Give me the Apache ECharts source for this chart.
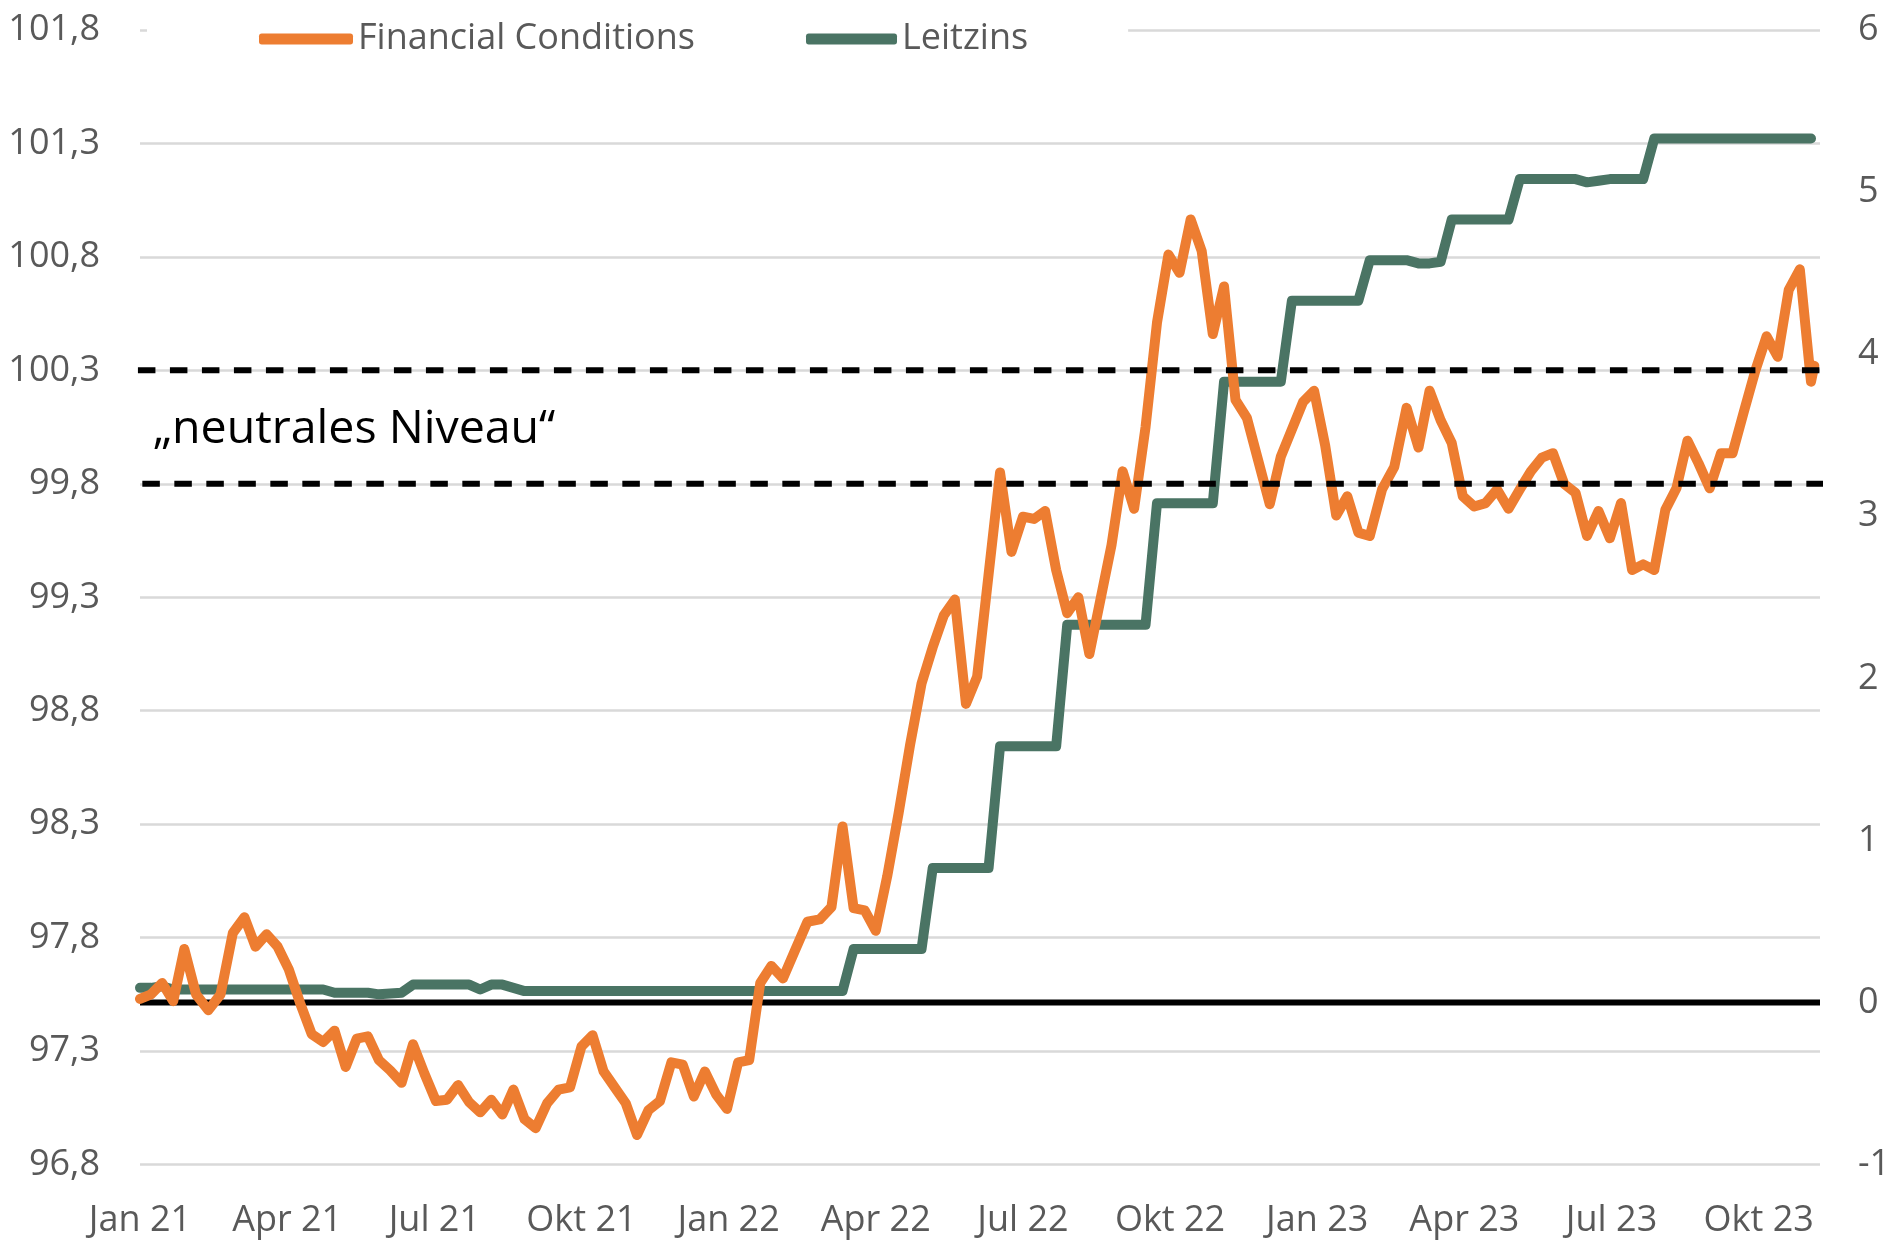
<!DOCTYPE html>
<html>
<head>
<meta charset="utf-8">
<script src="https://cdn.jsdelivr.net/npm/echarts/dist/echarts.min.js"></script>
<style>
html,body{margin:0;padding:0;background:#ffffff;}
#chart{width:1898px;height:1248px;}
</style>
</head>
<body>
<div id="chart"></div>
<script>
// ---------- data ----------
const dates = [
'2021-01-01','2021-01-08','2021-01-15','2021-01-22','2021-01-29',
'2021-02-05','2021-02-12','2021-02-19','2021-02-26',
'2021-03-05','2021-03-12','2021-03-19','2021-03-26',
'2021-04-02','2021-04-09','2021-04-16','2021-04-23','2021-04-30',
'2021-05-07','2021-05-14','2021-05-21','2021-05-28',
'2021-06-04','2021-06-11','2021-06-18','2021-06-25',
'2021-07-02','2021-07-09','2021-07-16','2021-07-23','2021-07-30',
'2021-08-06','2021-08-13','2021-08-20','2021-08-27',
'2021-09-03','2021-09-10','2021-09-17','2021-09-24',
'2021-10-01','2021-10-08','2021-10-15','2021-10-22','2021-10-29',
'2021-11-05','2021-11-12','2021-11-19','2021-11-26',
'2021-12-03','2021-12-10','2021-12-17','2021-12-24','2021-12-31',
'2022-01-07','2022-01-14','2022-01-21','2022-01-28',
'2022-02-04','2022-02-11','2022-02-18','2022-02-25',
'2022-03-04','2022-03-11','2022-03-18','2022-03-25',
'2022-04-01','2022-04-08','2022-04-15','2022-04-22','2022-04-29',
'2022-05-06','2022-05-13','2022-05-20','2022-05-27',
'2022-06-03','2022-06-10','2022-06-17','2022-06-24',
'2022-07-01','2022-07-08','2022-07-15','2022-07-22','2022-07-29',
'2022-08-05','2022-08-12','2022-08-19','2022-08-26',
'2022-09-02','2022-09-09','2022-09-16','2022-09-23','2022-09-30',
'2022-10-07','2022-10-14','2022-10-21','2022-10-28',
'2022-11-04','2022-11-11','2022-11-18','2022-11-25',
'2022-12-02','2022-12-09','2022-12-16','2022-12-23','2022-12-30',
'2023-01-06','2023-01-13','2023-01-20','2023-01-27',
'2023-02-03','2023-02-10','2023-02-17','2023-02-24',
'2023-03-03','2023-03-10','2023-03-17','2023-03-24','2023-03-31',
'2023-04-07','2023-04-14','2023-04-21','2023-04-28',
'2023-05-05','2023-05-12','2023-05-19','2023-05-26',
'2023-06-02','2023-06-09','2023-06-16','2023-06-23','2023-06-30',
'2023-07-07','2023-07-14','2023-07-21','2023-07-28',
'2023-08-04','2023-08-11','2023-08-18','2023-08-25',
'2023-09-01','2023-09-08','2023-09-15','2023-09-22','2023-09-29',
'2023-10-06','2023-10-13','2023-10-20','2023-10-27',
'2023-11-03','2023-11-05'
];

const financialConditions = [
97.53, 97.55, 97.60, 97.52, 97.75,
97.55, 97.48, 97.55, 97.82,
97.89, 97.76, 97.815, 97.76,
97.66, 97.51, 97.375, 97.34, 97.39,
97.23, 97.355, 97.365, 97.26,
97.215, 97.16, 97.33, 97.20,
97.08, 97.085, 97.15, 97.075, 97.03,
97.085, 97.02, 97.13, 97.00,
96.96, 97.07, 97.13, 97.14,
97.32, 97.37, 97.21, 97.14, 97.07,
96.93, 97.04, 97.08, 97.25,
97.24, 97.10, 97.21, 97.11, 97.045,
97.25, 97.26, 97.60, 97.675,
97.62, 97.745, 97.87, 97.88,
97.935, 98.29, 97.93, 97.92,
97.83, 98.07, 98.35, 98.65, 98.92,
99.08, 99.22, 99.29, 98.83,
98.95, 99.40, 99.85, 99.50,
99.655, 99.645, 99.68, 99.42, 99.23,
99.30, 99.05, 99.29, 99.53,
99.855, 99.69, 100.05, 100.51, 100.81,
100.73, 100.965, 100.825, 100.46,
100.67, 100.17, 100.09, 99.90,
99.71, 99.92, 100.04, 100.16, 100.21,
99.97, 99.66, 99.745, 99.585,
99.57, 99.775, 99.875, 100.135,
99.96, 100.21, 100.08, 99.98, 99.745,
99.70, 99.715, 99.775, 99.69,
99.775, 99.855, 99.915, 99.935,
99.80, 99.76, 99.57, 99.68, 99.56,
99.715, 99.42, 99.445, 99.42,
99.685, 99.78, 99.99, 99.89,
99.78, 99.935, 99.935, 100.12, 100.30,
100.45, 100.36, 100.655, 100.745,
100.25, 100.32
];

const leitzins = [
0.09, 0.09, 0.10, 0.08, 0.08,
0.08, 0.08, 0.08, 0.08,
0.08, 0.08, 0.08, 0.08,
0.08, 0.08, 0.08, 0.08, 0.06,
0.06, 0.06, 0.06, 0.05,
0.055, 0.06, 0.11, 0.11,
0.11, 0.11, 0.11, 0.11, 0.08,
0.11, 0.11, 0.09, 0.07,
0.07, 0.07, 0.07, 0.07,
0.07, 0.07, 0.07, 0.07, 0.07,
0.07, 0.07, 0.07, 0.07,
0.07, 0.07, 0.07, 0.07, 0.07,
0.07, 0.07, 0.07, 0.07,
0.07, 0.07, 0.07, 0.07,
0.07, 0.07, 0.33, 0.33,
0.33, 0.33, 0.33, 0.33, 0.33,
0.83, 0.83, 0.83, 0.83,
0.83, 0.83, 1.58, 1.58,
1.58, 1.58, 1.58, 1.58, 2.33,
2.33, 2.33, 2.33, 2.33,
2.33, 2.33, 2.33, 3.08, 3.08,
3.08, 3.08, 3.08, 3.08,
3.83, 3.83, 3.83, 3.83,
3.83, 3.83, 4.33, 4.33, 4.33,
4.33, 4.33, 4.33, 4.33,
4.58, 4.58, 4.58, 4.58,
4.56, 4.56, 4.57, 4.83, 4.83,
4.83, 4.83, 4.83, 4.83,
5.08, 5.08, 5.08, 5.08,
5.08, 5.08, 5.06, 5.07, 5.08,
5.08, 5.08, 5.08, 5.33,
5.33, 5.33, 5.33, 5.33,
5.33, 5.33, 5.33, 5.33, 5.33,
5.33, 5.33, 5.33, 5.33,
5.33, null
];

const xTickLabels = ['Jan 21','Apr 21','Jul 21','Okt 21','Jan 22','Apr 22','Jul 22','Okt 22','Jan 23','Apr 23','Jul 23','Okt 23'];
const leftAxisRange = [96.8, 101.8, 0.5];
const rightAxisRange = [-1, 6, 1];
const neutralLevels = [100.3, 99.8];
const neutralLabel = '\u201Eneutrales Niveau\u201C';
const seriesNames = ['Financial Conditions', 'Leitzins'];

// ---------- helpers ----------
function monthsSince2021(s) {
  const p = s.split('-').map(Number);
  const dim = new Date(p[0], p[1], 0).getDate();
  return (p[0] - 2021) * 12 + (p[1] - 1) + (p[2] - 1) / dim;
}
const X_MAX = 34.25;
const FONT = '"Open Sans", "Noto Sans", sans-serif';
const ORANGE = '#ED7D31';
const GREEN = '#4A7464';
const LABEL = '#595959';
const FS = 36;

const fciData = dates.map((d, i) => [monthsSince2021(d), financialConditions[i]]);
const rateData = dates.map((d, i) => [monthsSince2021(d), leitzins[i]]).filter(p => p[1] !== null);

const dashExtents = [[-0.45, 34.35], [-0.35, 34.47]];
const dashOffsets = [12, 12.5];

const chart = echarts.init(document.getElementById('chart'), null, {renderer: 'canvas'});

const series = [
  {
    name: 'zero', type: 'line', yAxisIndex: 1, z: 1, silent: true, symbol: 'none',
    data: [[0, 0], [X_MAX, 0]],
    lineStyle: {color: '#000000', width: 6}
  },
  {
    name: seriesNames[1], type: 'line', yAxisIndex: 1, z: 2, symbol: 'none',
    data: rateData, color: GREEN,
    lineStyle: {color: GREEN, width: 10, cap: 'round', join: 'round'}
  },
  {
    name: seriesNames[0], type: 'line', yAxisIndex: 0, z: 3, symbol: 'none',
    data: fciData, color: ORANGE,
    lineStyle: {color: ORANGE, width: 10, cap: 'round', join: 'round'}
  }
];
neutralLevels.forEach((lv, k) => {
  series.push({
    name: 'neutral' + k, type: 'line', yAxisIndex: 0, z: 4, symbol: 'none', clip: false, silent: true,
    data: [[dashExtents[k][0], lv], [dashExtents[k][1], lv]],
    lineStyle: {color: '#000000', width: 6, type: [17.5, 14.5], dashOffset: dashOffsets[k], cap: 'butt'}
  });
});

const legendText = {fontFamily: FONT, fontSize: FS, color: LABEL, lineHeight: 44};

const option = {
  animation: false,
  backgroundColor: '#ffffff',
  textStyle: {fontFamily: FONT},
  grid: {left: 140, right: 78, top: 30, bottom: 83.5, containLabel: false, outerBoundsMode: 'none'},
  legend: [
    {
      data: [seriesNames[0]], left: 147, top: 15, padding: [2, 8, 2, 112],
      itemWidth: 94, itemHeight: 11, icon: 'roundRect', backgroundColor: '#ffffff',
      textStyle: legendText, selectedMode: false
    },
    {
      data: [seriesNames[1]], left: 694, top: 15, padding: [2, 100, 2, 112],
      itemWidth: 91, itemHeight: 11, icon: 'roundRect', backgroundColor: '#ffffff',
      textStyle: legendText, selectedMode: false
    }
  ],
  xAxis: {
    type: 'value', min: 0, max: X_MAX, interval: 3,
    axisLine: {show: false}, axisTick: {show: false}, splitLine: {show: false},
    axisLabel: {
      fontFamily: FONT, fontSize: FS, color: LABEL, margin: 38,
      showMaxLabel: false,
      formatter: function (v) {
        const k = Math.round(v / 3);
        if (Math.abs(v - k * 3) > 1e-6 || k >= xTickLabels.length) return '';
        return xTickLabels[k];
      }
    }
  },
  yAxis: [
    {
      type: 'value', position: 'left',
      min: leftAxisRange[0], max: leftAxisRange[1], interval: leftAxisRange[2],
      axisLine: {show: false}, axisTick: {show: false},
      splitLine: {show: true, lineStyle: {color: '#D9D9D9', width: 2.5}},
      axisLabel: {
        fontFamily: FONT, fontSize: FS, color: LABEL, margin: 40,
        formatter: v => v.toFixed(1).replace('.', ',')
      }
    },
    {
      type: 'value', position: 'right',
      min: rightAxisRange[0], max: rightAxisRange[1], interval: rightAxisRange[2],
      axisLine: {show: false}, axisTick: {show: false}, splitLine: {show: false},
      axisLabel: {
        fontFamily: FONT, fontSize: FS, color: LABEL, margin: 38,
        formatter: v => String(Math.round(v))
      }
    }
  ],
  graphic: [
    {
      type: 'text', x: 153, y: 430, z: 10,
      style: {text: neutralLabel, font: '46.5px ' + FONT, fill: '#000000', align: 'left', verticalAlign: 'middle'}
    }
  ],
  series: series
};

chart.setOption(option);
</script>
</body>
</html>
